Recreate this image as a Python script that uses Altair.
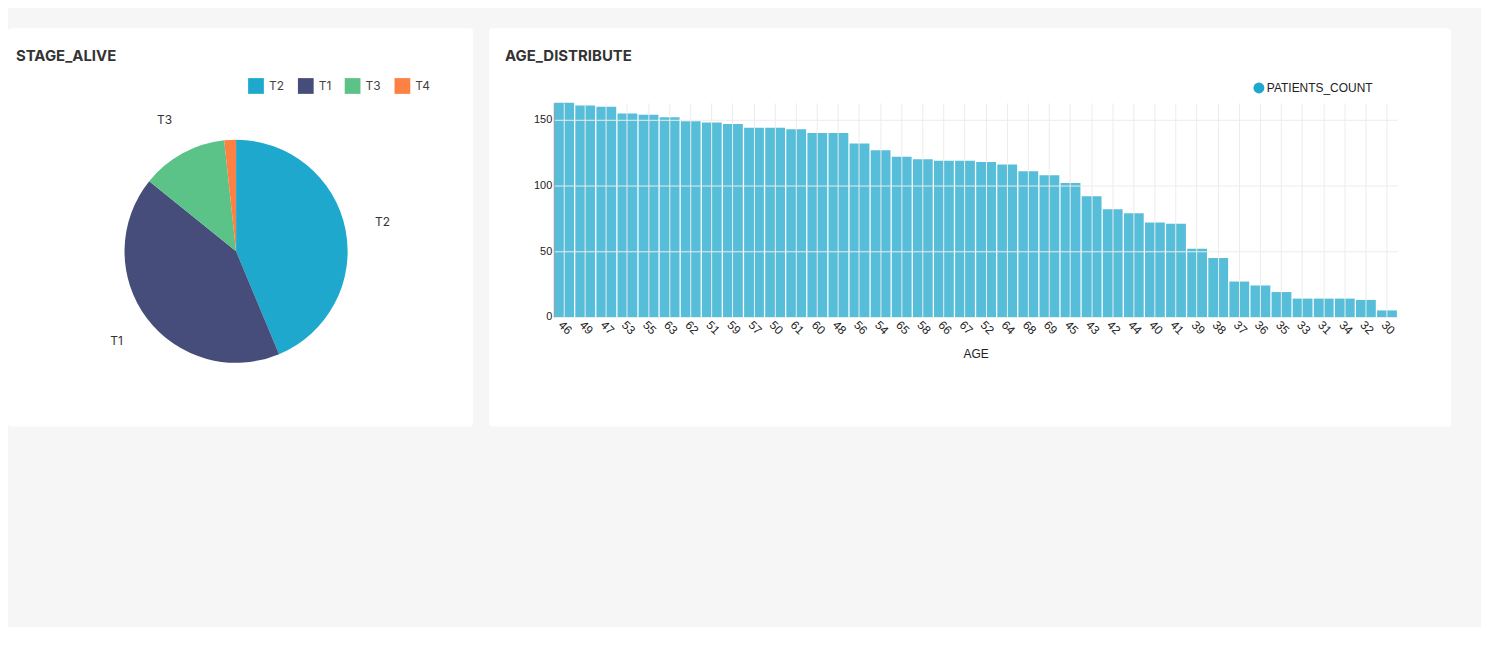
import altair as alt
import pandas as pd

stages = ["T2", "T1", "T3", "T4"]
stage_pct = [43.7, 42.1, 12.5, 1.7]
stage_colors = ["#1fa8cd", "#464d7a", "#5bc387", "#fc8142"]

ages = ["46", "49", "47", "53", "55", "63", "62", "51", "59", "57", "50", "61", "60", "48",
        "56", "54", "65", "58", "66", "67", "52", "64", "68", "69", "45", "43", "42", "44",
        "40", "41", "39", "38", "37", "36", "35", "33", "31", "34", "32", "30"]
counts = [163, 161, 160, 155, 154, 152, 149, 148, 147, 144, 144, 143, 140, 140,
          132, 127, 122, 120, 119, 119, 118, 116, 111, 108, 102, 92, 82, 79,
          72, 71, 52, 45, 27, 24, 19, 14, 14, 14, 13, 5]

pie_df = pd.DataFrame({"stage": stages, "pct": stage_pct, "idx": range(len(stages)),
                       "lab": ["T2", "T1", "T3", ""]})
bar_df = pd.DataFrame({"AGE": ages, "count": counts})
one = pd.DataFrame({"k": [0]})

font = "Inter"

# pie panel
pw, ph = 467, 400
card1 = alt.Chart(one).mark_rect(color="white", cornerRadius=3).encode(
    x=alt.value(0), x2=alt.value(pw), y=alt.value(0), y2=alt.value(ph))
title1 = alt.Chart(one).mark_text(text="STAGE_ALIVE", font=font, fontSize=15, fontWeight="bold",
                                  color="#333", align="left").encode(x=alt.value(8), y=alt.value(28))
base = alt.Chart(pie_df).encode(
    theta=alt.Theta("pct:Q", stack=True),
    order=alt.Order("idx:Q"),
)
pie = base.mark_arc(radius=112).encode(
    x=alt.value(229), y=alt.value(224),
    color=alt.Color("stage:N", scale=alt.Scale(domain=stages, range=stage_colors),
                    legend=alt.Legend(title=None, orient="none", direction="horizontal",
                                      legendX=240, legendY=49, symbolType="square",
                                      symbolSize=250, labelFont=font, labelFontSize=12,
                                      labelColor="#444", columnPadding=12)),
)
labels = base.mark_text(radius=150, font=font, fontSize=12, color="#333").encode(
    x=alt.value(229), y=alt.value(224), text="lab:N")
pie_chart = alt.layer(card1, title1, pie, labels).properties(width=pw, height=ph)

# bar panel
bw, bh = 847, 215
card2 = alt.Chart(one).mark_rect(color="white", cornerRadius=3).encode(
    x=alt.value(-65), x2=alt.value(901), y=alt.value(-75), y2=alt.value(325))
title2 = alt.Chart(one).mark_text(text="AGE_DISTRIBUTE", font=font, fontSize=15, fontWeight="bold",
                                  color="#333", align="left").encode(x=alt.value(-49), y=alt.value(-47))
leg_dot = alt.Chart(one).mark_point(filled=True, shape="circle", size=120, color="#1fa8cd",
                                    opacity=1).encode(x=alt.value(708), y=alt.value(-15))
leg_txt = alt.Chart(one).mark_text(text="PATIENTS_COUNT", font="Liberation Sans", fontSize=12,
                                   color="#222", align="left").encode(x=alt.value(716), y=alt.value(-15))
bars = alt.Chart(bar_df).mark_bar(opacity=0.75, color="#1fa8cd").encode(
    x=alt.X("AGE:N", sort=ages, title="AGE",
            scale=alt.Scale(paddingInner=0.06, paddingOuter=0.02),
            axis=alt.Axis(labelAngle=45, labelColor="#222", labelFontSize=12, titleFontSize=12,
                          titleFontWeight="normal", titleColor="#222", titlePadding=12,
                          ticks=False, domain=False, grid=True, gridColor="#ececec", zindex=1,
                          labelFont="Liberation Sans", titleFont="Liberation Sans")),
    y=alt.Y("count:Q", title=None, scale=alt.Scale(domain=[0, 163], nice=False),
            axis=alt.Axis(values=[0, 50, 100, 150], ticks=False, domainColor="#999", zindex=1,
                          labelColor="#222", labelFontSize=11, labelFont="Liberation Sans",
                          gridColor="#ececec")),
)
bar_chart = alt.layer(card2, title2, leg_dot, leg_txt, bars).properties(width=bw, height=bh)

spacer = alt.Chart(one).mark_point(opacity=0).encode(
    x=alt.value(0), y=alt.value(0)).properties(width=10, height=75)

right = alt.vconcat(spacer, bar_chart, spacing=0, bounds="flush")

chart = alt.hconcat(pie_chart, right, spacing=81, bounds="flush").resolve_scale(
    color="independent").properties(
    background="#f6f6f6", padding={"left": 0, "top": 16, "right": 30, "bottom": 200}
).configure_view(stroke=None)

chart.save("out.html", embed_options={"renderer": "svg", "actions": False})
